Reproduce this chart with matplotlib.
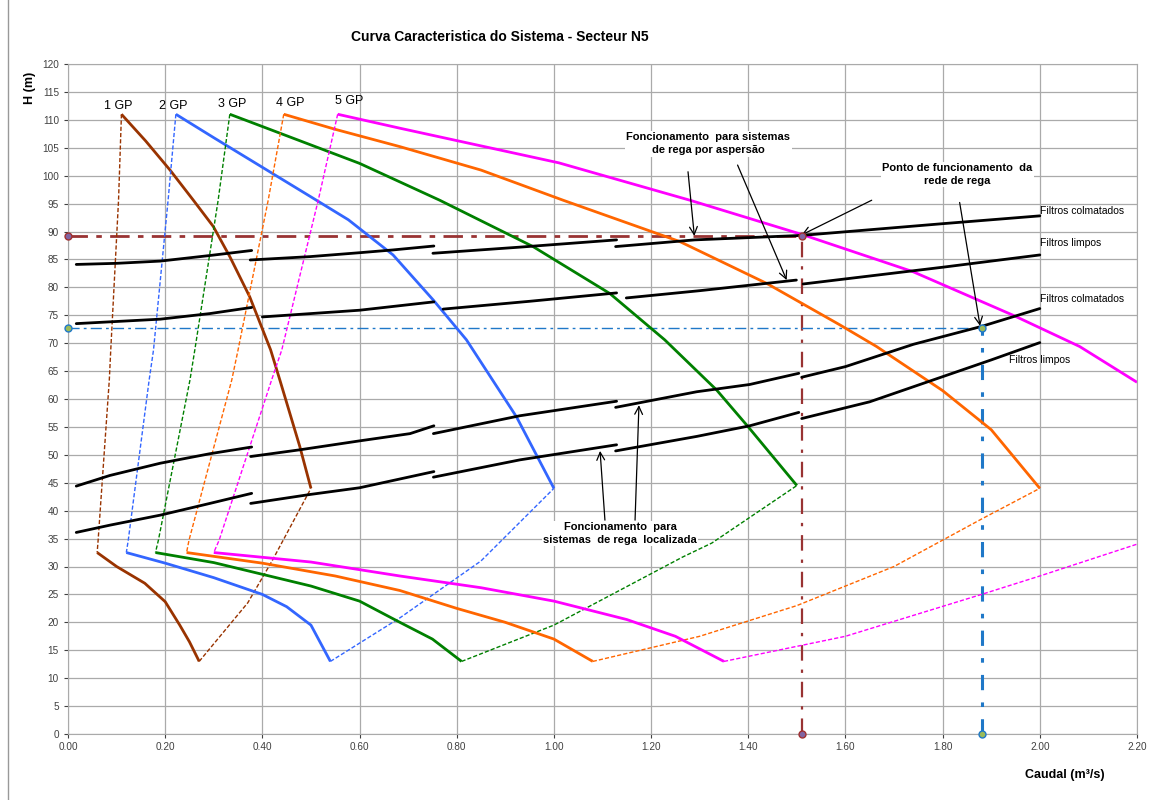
import matplotlib
matplotlib.use('Agg')
import matplotlib.pyplot as plt
from matplotlib.lines import Line2D
import numpy as np

plt.rcParams['font.family'] = ['Liberation Sans', 'DejaVu Sans']

# pump curves (upper and lower solid parts), one per group of pumps
gp_labels = ['1 GP', '2 GP', '3 GP', '4 GP', '5 GP']
gp_colors = ['#993300', '#3366FF', '#008000', '#FF6600', '#FF00FF']
gp_label_x = [0.104, 0.2175, 0.337, 0.458, 0.578]
gp_label_y = [112.5, 112.5, 112.8, 113.1, 113.3]

upper_x = [
    [0.11, 0.16, 0.21, 0.258, 0.299, 0.333, 0.374, 0.417, 0.436, 0.477, 0.50],
    [0.222, 0.30, 0.40, 0.50, 0.577, 0.669, 0.752, 0.82, 0.923, 1.00],
    [0.333, 0.40, 0.60, 0.765, 0.957, 1.115, 1.228, 1.335, 1.40, 1.50],
    [0.444, 0.55, 0.683, 0.85, 1.019, 1.259, 1.438, 1.588, 1.664, 1.80, 1.90, 2.00],
    [0.555, 0.683, 1.01, 1.28, 1.513, 1.739, 1.945, 2.082, 2.20],
]
upper_y = [
    [111, 106.2, 101, 95.6, 90.9, 85.5, 78.3, 68.8, 63.4, 51.5, 44],
    [111, 106.8, 101.5, 96.2, 92.1, 85.8, 77.7, 70.6, 56.8, 44],
    [111, 108.8, 102.2, 95.6, 87.3, 78.9, 70.6, 61.6, 55.0, 44.5],
    [111, 108.3, 105.2, 101.0, 95.6, 88.2, 80.7, 73.3, 69.4, 61.5, 54.5, 44],
    [111, 108.5, 102.3, 95.6, 89.4, 82.8, 75.0, 69.4, 63.0],
]
lower_x = [
    [0.06, 0.10, 0.158, 0.20, 0.23, 0.25, 0.27],
    [0.12, 0.20, 0.30, 0.40, 0.45, 0.50, 0.54],
    [0.18, 0.30, 0.40, 0.50, 0.60, 0.683, 0.75, 0.81],
    [0.244, 0.40, 0.55, 0.683, 0.80, 0.90, 1.00, 1.08],
    [0.30, 0.50, 0.683, 0.85, 1.00, 1.15, 1.25, 1.35],
]
lower_y = [
    [32.5, 30.0, 27.0, 23.7, 19.5, 16.5, 13.0],
    [32.5, 30.6, 28.0, 25.0, 22.8, 19.5, 13.0],
    [32.5, 30.7, 28.6, 26.5, 23.8, 20.0, 17.0, 13.0],
    [32.5, 30.6, 28.3, 25.7, 22.5, 20.0, 17.0, 13.0],
    [32.5, 30.8, 28.3, 26.2, 23.8, 20.5, 17.5, 13.0],
]
# dashed system curves joining the pump curves
dash_top_x = [
    [0.11, 0.104, 0.088, 0.085, 0.062, 0.06],
    [0.222, 0.206, 0.176, 0.167, 0.124, 0.12],
    [0.333, 0.309, 0.261, 0.251, 0.186, 0.18],
    [0.444, 0.412, 0.35, 0.337, 0.249, 0.244],
    [0.555, 0.515, 0.44, 0.419, 0.311, 0.30],
]
dash_top_y = [111, 95.6, 68.8, 63.4, 34.7, 32.5]
dash_bot_x = [
    [0.27, 0.37, 0.42, 0.50],
    [0.54, 0.683, 0.85, 1.00],
    [0.81, 1.00, 1.265, 1.325, 1.50],
    [1.08, 1.30, 1.50, 1.70, 1.88, 2.00],
    [1.35, 1.60, 1.88, 2.00, 2.20],
]
dash_bot_y = [
    [13, 23.5, 31, 44],
    [13, 20.8, 31, 44],
    [13, 19.5, 31.7, 34.2, 44.5],
    [13, 17.5, 23, 30, 38.5, 44],
    [13, 17.5, 25, 28.3, 34],
]

# network curves (black), each drawn as separate pieces
net_x = [
    [[0.017, 0.10, 0.19, 0.292, 0.378], [0.375, 0.498, 0.60, 0.669, 0.753],
     [0.751, 0.93, 1.129], [1.127, 1.29, 1.51, 1.80, 2.0]],
    [[0.017, 0.19, 0.292, 0.378], [0.40, 0.60, 0.753], [0.772, 0.95, 1.129],
     [1.149, 1.30, 1.499], [1.513, 1.80, 2.0]],
    [[0.017, 0.086, 0.19, 0.292, 0.378], [0.376, 0.477, 0.60, 0.704, 0.753],
     [0.752, 0.93, 1.129], [1.127, 1.294, 1.403, 1.504], [1.51, 1.60, 1.74, 1.88, 2.0]],
    [[0.017, 0.086, 0.19, 0.292, 0.378], [0.376, 0.498, 0.60, 0.753],
     [0.752, 0.93, 1.129], [1.127, 1.294, 1.403, 1.504], [1.51, 1.65, 1.80, 1.90, 2.0]],
]
net_y = [
    [[84.1, 84.3, 84.7, 85.7, 86.6], [84.9, 85.5, 86.2, 86.7, 87.4],
     [86.1, 87.2, 88.5], [87.3, 88.5, 89.3, 91.4, 92.8]],
    [[73.5, 74.3, 75.3, 76.4], [74.7, 75.9, 77.4], [76.1, 77.5, 79.0],
     [78.1, 79.4, 81.3], [80.6, 83.6, 85.8]],
    [[44.4, 46.3, 48.5, 50.2, 51.4], [49.7, 50.9, 52.5, 53.8, 55.2],
     [53.8, 57.0, 59.6], [58.5, 61.3, 62.6, 64.6], [63.9, 65.8, 69.8, 73.0, 76.2]],
    [[36.1, 37.4, 39.2, 41.3, 43.1], [41.3, 42.9, 44.1, 47.0],
     [46.0, 49.1, 51.8], [50.7, 53.3, 55.2, 57.6], [56.5, 59.5, 64.0, 67.0, 70.1]],
]
net_labels = ['Filtros colmatados', 'Filtros limpos', 'Filtros colmatados', 'Filtros limpos']
net_label_x = [2.0, 2.0, 2.0, 1.937]
net_label_y = [93.6, 87.9, 77.9, 67.0]

# operating points
op_asp = (1.51, 89.2)
op_loc = (1.88, 72.8)

fig = plt.figure(figsize=(11.52, 8), dpi=100)
ax = fig.add_axes([68 / 1152, 66 / 800, 1069 / 1152, 670 / 800])

ax.set_xlim(0, 2.2)
ax.set_ylim(0, 120)
ax.set_xticks(np.arange(0, 2.21, 0.2))
ax.set_xticklabels(['%.2f' % v for v in np.arange(0, 2.21, 0.2)])
ax.set_yticks(np.arange(0, 121, 5))
ax.tick_params(labelsize=7.2, colors='#404040', length=3, width=0.8)
ax.tick_params(axis='x', pad=3)
ax.grid(True, color='#AAAAAA', lw=0.9)
ax.set_axisbelow(True)
for s in ax.spines.values():
    s.set_color('#AAAAAA')

# reference lines to the operating points
ax.plot([0, op_asp[0]], [op_asp[1], op_asp[1]], color='#993333', lw=2, dashes=(7, 3, 2, 3))
ax.plot([op_asp[0], op_asp[0]], [0, op_asp[1]], color='#993333', lw=1.6, dashes=(7, 4, 1.5, 4))
ax.plot([0, op_loc[0]], [op_loc[1], op_loc[1]], color='#1F78C8', lw=1.0, dashes=(8, 3, 2, 3))
ax.plot([op_loc[0], op_loc[0]], [0, op_loc[1]], color='#1F78C8', lw=2.2, dashes=(5, 4, 1.5, 4))

for i in range(5):
    c = gp_colors[i]
    ax.plot(dash_top_x[i], dash_top_y, color=c, lw=1.0, dashes=(3, 1.5))
    ax.plot(dash_bot_x[i], dash_bot_y[i], color=c, lw=1.0, dashes=(3, 1.5))
    ax.plot(upper_x[i], upper_y[i], color=c, lw=2.0, solid_capstyle='butt', solid_joinstyle='round')
    ax.plot(lower_x[i], lower_y[i], color=c, lw=2.0, solid_capstyle='butt', solid_joinstyle='round')
    ax.text(gp_label_x[i], gp_label_y[i], gp_labels[i], fontsize=9, ha='center', va='center')

for k in range(4):
    for sx, sy in zip(net_x[k], net_y[k]):
        ax.plot(sx, sy, color='black', lw=2.0, solid_capstyle='round', solid_joinstyle='round')
    ax.text(net_label_x[k], net_label_y[k], net_labels[k], fontsize=7.5, ha='left', va='center')

# markers
ax.plot([0, op_asp[0], op_asp[0]], [op_asp[1], op_asp[1], 0], ls='none', marker='o', ms=5,
        mfc='#8064A2', mec='#A03030', mew=1, clip_on=False, zorder=5)
ax.plot([0, op_loc[0], op_loc[0]], [op_loc[1], op_loc[1], 0], ls='none', marker='o', ms=5,
        mfc='#9BBB59', mec='#1F78C8', mew=1, clip_on=False, zorder=5)

# annotations
box = dict(facecolor='white', edgecolor='none', pad=1)
ax.text(1.318, 105.7, 'Foncionamento  para sistemas\nde rega por aspersão', fontsize=8,
        fontweight='bold', ha='center', va='center', bbox=box, linespacing=1.35)
ax.text(1.83, 100.2, 'Ponto de funcionamento  da\nrede de rega', fontsize=8,
        fontweight='bold', ha='center', va='center', bbox=box, linespacing=1.35)
ax.text(1.136, 35.9, 'Foncionamento  para\nsistemas  de rega  localizada', fontsize=8,
        fontweight='bold', ha='center', va='center', bbox=box, linespacing=1.35)

arrows = [
    ((1.276, 100.7), (1.289, 89.2)),
    ((1.378, 101.9), (1.479, 81.3)),
    ((1.654, 95.6), (1.51, 89.4)),
    ((1.835, 95.2), (1.877, 73.1)),
    ((1.105, 38.3), (1.095, 50.7)),
    ((1.167, 38.3), (1.175, 58.9)),
]
for start, end in arrows:
    ax.annotate('', xy=end, xytext=start,
                arrowprops=dict(arrowstyle='->', color='black', lw=0.9,
                                shrinkA=0, shrinkB=0, mutation_scale=14))

fig.text(500 / 1152, 1 - 37 / 800, 'Curva Caracteristica do Sistema - Secteur N5',
         fontsize=10, fontweight='bold', ha='center', va='center')
fig.text(30 / 1152, 1 - 88 / 800, 'H (m)', fontsize=9, fontweight='bold',
         rotation=90, ha='center', va='center')
fig.text(1065 / 1152, 1 - 775 / 800, 'Caudal (m³/s)', fontsize=9, fontweight='bold',
         ha='center', va='center')
fig.add_artist(Line2D([8 / 1152, 8 / 1152], [0, 1], color='#999999', lw=1))

fig.savefig('out.png', dpi=100)
